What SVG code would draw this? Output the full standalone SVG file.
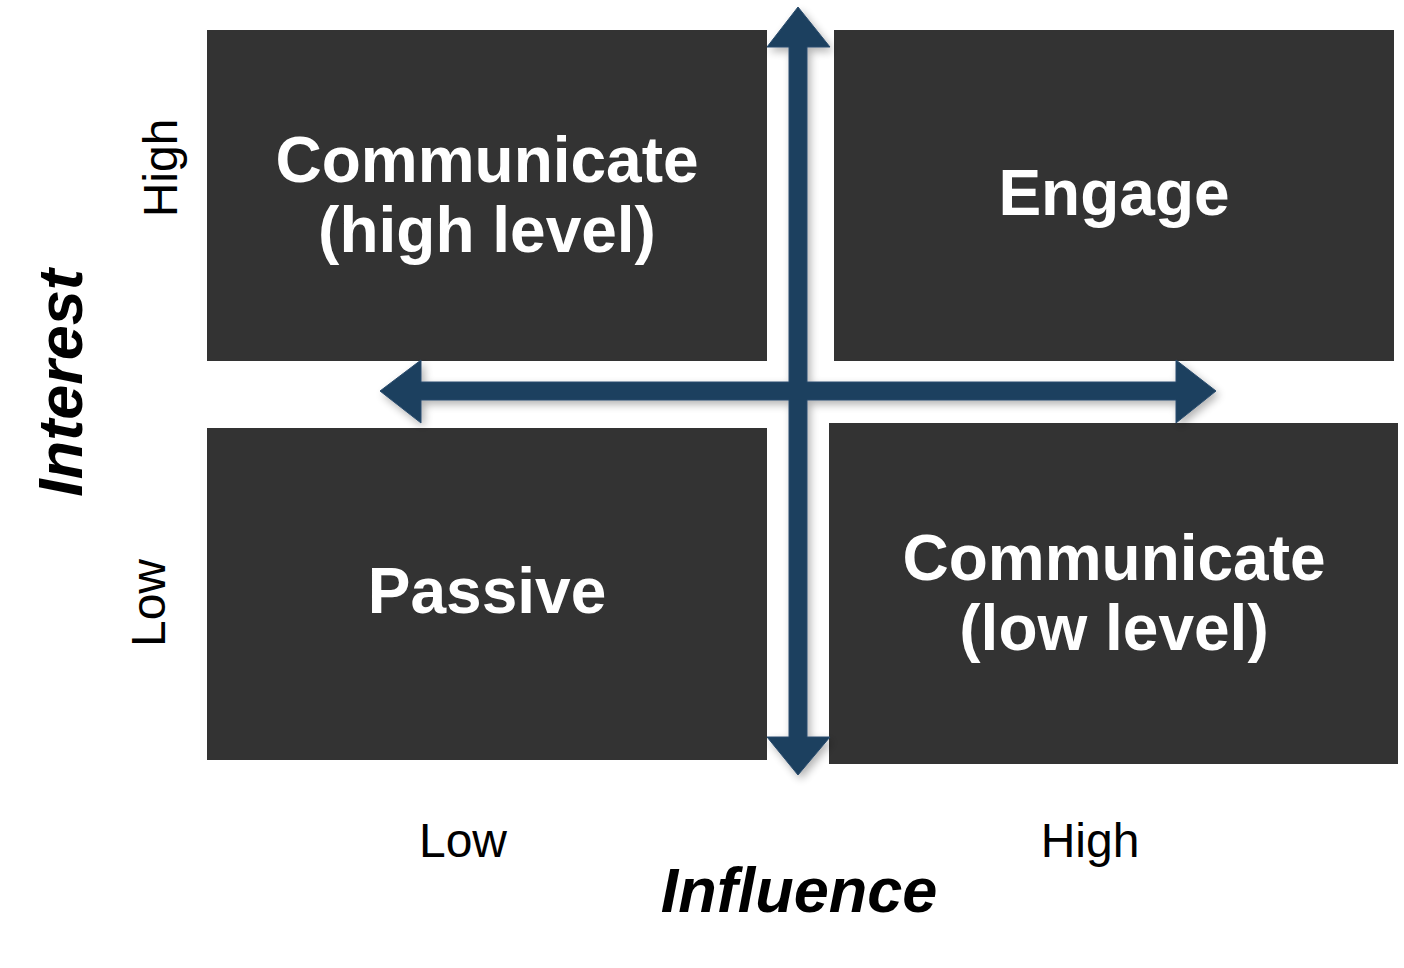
<svg xmlns="http://www.w3.org/2000/svg" width="1404" height="968" viewBox="0 0 1404 968">
<defs>
<style>
.box{fill:#333333}
.qt{font-family:"Liberation Sans",Arial,sans-serif;font-weight:bold;font-size:64px;fill:#ffffff;text-anchor:middle}
.ax{font-family:"Liberation Sans",Arial,sans-serif;font-size:48px;fill:#000000;text-anchor:middle}
.axt{font-family:"Liberation Sans",Arial,sans-serif;font-size:63px;font-weight:bold;font-style:italic;fill:#000000;text-anchor:middle}
.arr{fill:#1e3f5e;stroke:#2a4d6e;stroke-width:1}
</style>
<filter id="sh" x="-10%" y="-10%" width="130%" height="130%">
<feGaussianBlur in="SourceAlpha" stdDeviation="4"/>
<feOffset dx="3" dy="4" result="b"/>
<feComponentTransfer><feFuncA type="linear" slope="0.3"/></feComponentTransfer>
<feMerge><feMergeNode/><feMergeNode in="SourceGraphic"/></feMerge>
</filter>
</defs>
<rect width="1404" height="968" fill="#ffffff"/>
<g id="q-high-level">
<rect class="box" x="207" y="30" width="560" height="331"/>
<text class="qt" x="487" y="182">Communicate</text>
<text class="qt" x="487" y="252">(high level)</text>
</g>
<g id="q-engage">
<rect class="box" x="834" y="30" width="560" height="331"/>
<text class="qt" x="1114" y="215">Engage</text>
</g>
<g id="q-passive">
<rect class="box" x="207" y="428" width="560" height="332"/>
<text class="qt" x="487" y="613">Passive</text>
</g>
<g id="q-low-level">
<rect class="box" x="829" y="423" width="569" height="341"/>
<text class="qt" x="1114" y="580">Communicate</text>
<text class="qt" x="1114" y="650">(low level)</text>
</g>
<g id="connectors" filter="url(#sh)">
<polygon class="arr" points="798,7 830,47 807,47 807,382 1176,382 1176,360 1216,391 1176,423 1176,400 807,400 807,737 830,737 798,775 767,737 789,737 789,400 421,400 421,423 380,391 421,360 421,382 789,382 789,47 767,47"/>
</g>
<g id="axis-labels">
<text class="ax" x="463" y="857">Low</text>
<text class="ax" x="1090" y="857">High</text>
<text class="axt" x="799" y="912">Influence</text>
<text class="axt" transform="translate(82,383) rotate(-90)">Interest</text>
<text class="ax" transform="translate(177,168) rotate(-90)">High</text>
<text class="ax" transform="translate(165,603) rotate(-90)">Low</text>
</g>
</svg>
